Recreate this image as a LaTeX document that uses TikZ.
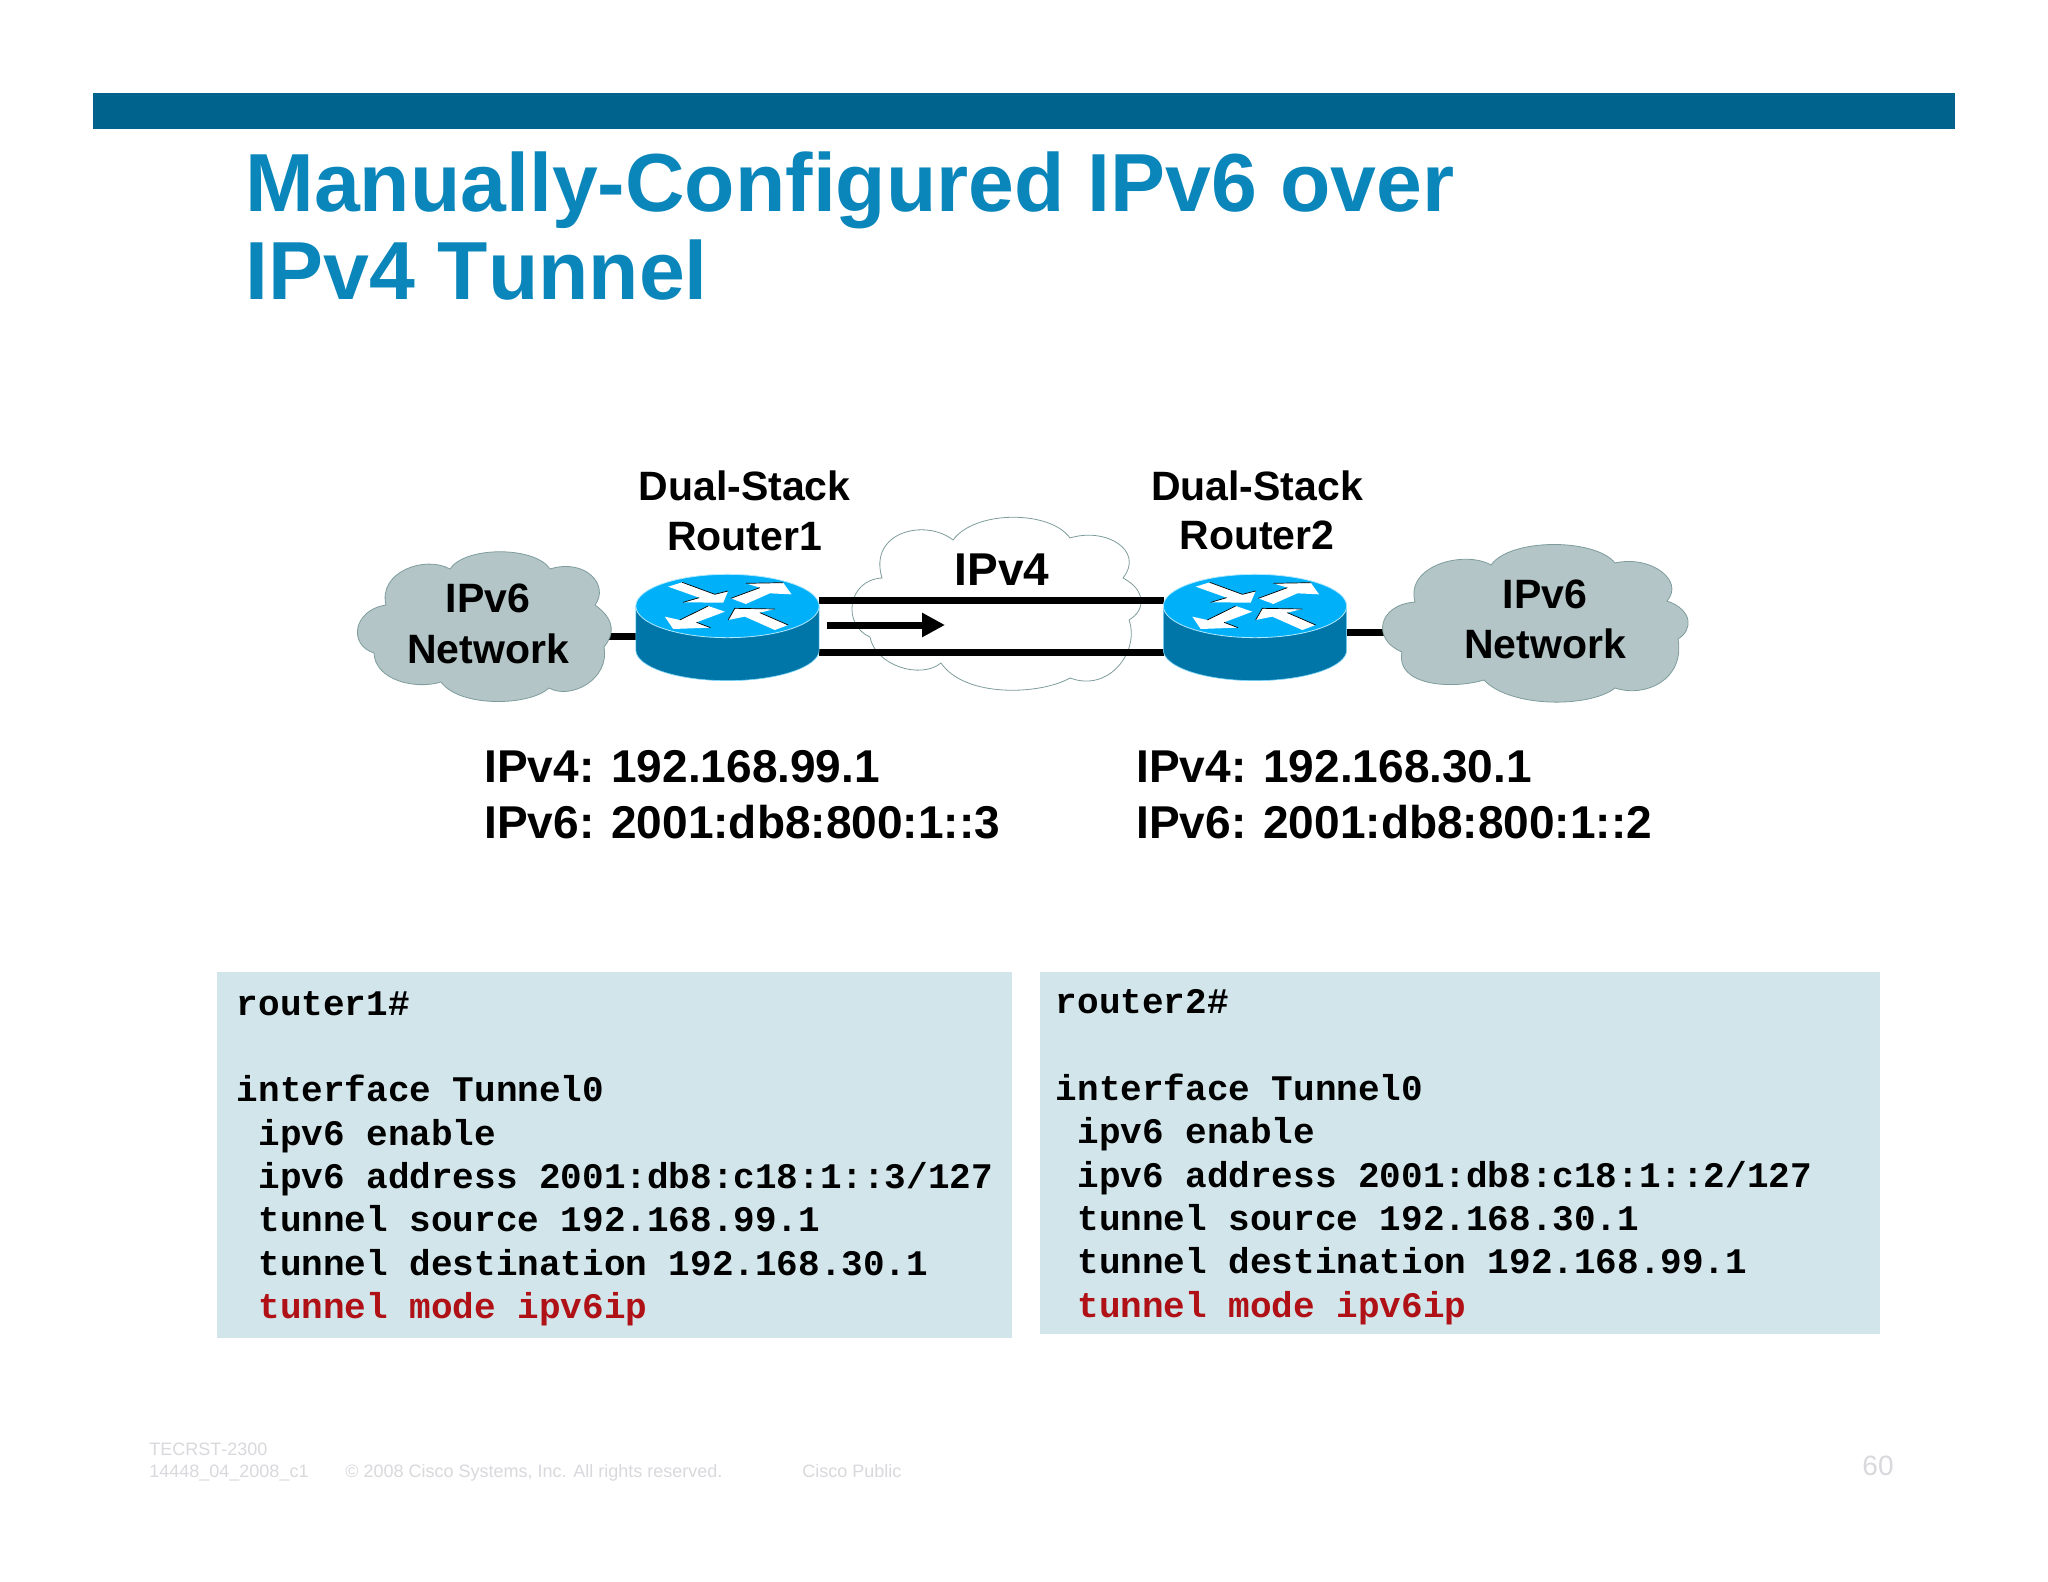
\documentclass[tikz,border=0pt]{standalone}
\usepackage{fontspec}
\setmainfont{Liberation Sans}[Kerning=Off]
\newfontfamily\codefont{Liberation Mono}[BoldFont={Liberation Mono Bold}]
\usetikzlibrary{arrows.meta}
\definecolor{barblue}{HTML}{00638E}
\definecolor{titleblue}{HTML}{0A86BB}
\definecolor{boxfill}{HTML}{D2E5EA}
\definecolor{cloudgray}{HTML}{B3C5C7}
\definecolor{cloudedge}{HTML}{7F9C9C}
\definecolor{rtop}{HTML}{00B1FA}
\definecolor{rside}{HTML}{0076A8}
\definecolor{redtxt}{HTML}{B01116}
\definecolor{footgray}{HTML}{D9D9DD}
\tikzset{
  link/.style={line width=3.5pt,black},
  lab/.style={font=\fontsize{20.5}{24}\bfseries\selectfont,inner sep=0pt,align=center},
  addr/.style={font=\fontsize{23}{28}\bfseries\selectfont,inner sep=0pt,anchor=base west},
  ttl/.style={font=\fontsize{41.2}{44}\bfseries\selectfont,text=titleblue,inner sep=0pt,anchor=base west},
  code/.style={font=\codefont\bfseries\fontsize{18}{21.65}\selectfont,inner sep=0pt,anchor=north west,align=left},
  foot/.style={font=\fontsize{9}{10}\selectfont,text=footgray,inner sep=0pt,anchor=base west},
  cl6/.style={fill=cloudgray,draw=cloudedge,line width=0.4pt},
  cl4/.style={fill=white,draw=cloudedge,line width=0.4pt},
  routeranchor/.style={minimum width=91.5pt,minimum height=26pt,inner sep=0pt,outer sep=0pt},
}
\newcommand{\routerglyph}[1]{%
\begin{scope}[shift={(#1,606)},x=0.16667pt,y=-0.16667pt,shift={(-323,-138)}]
  \fill[rside,draw=rtop!50!white,line width=0.3pt] (48,138) -- (48,270) arc[start angle=180,end angle=0,x radius=275,y radius=92] -- (598,138) -- cycle;
  \fill[rtop,draw=rtop!30!white,line width=0.4pt] (323,138) ellipse[x radius=275,y radius=95];
  \fill[white] (145,80) -- (187,67) -- (285,103) -- (325,93) -- (310,128) -- (190,127) -- (238,113) -- cycle;
  \fill[white] (333,115) -- (420,83) -- (378,70) -- (490,68) -- (515,103) -- (450,100) -- (378,132) -- cycle;
  \fill[white] (135,170) -- (180,180) -- (265,138) -- (315,155) -- (230,187) -- (272,203) -- (160,207) -- cycle;
  \fill[white] (325,180) -- (345,145) -- (465,147) -- (420,158) -- (505,195) -- (465,210) -- (375,170) -- cycle;
  \draw[black,line width=0.35pt] (187,67) -- (285,103) -- (325,93);
  \draw[black,line width=0.35pt] (190,127) -- (238,113);
  \draw[black,line width=0.35pt] (333,115) -- (420,83) (378,70) -- (490,68);
  \draw[black,line width=0.35pt] (180,180) -- (265,138) (230,187) -- (272,203);
  \draw[black,line width=0.35pt] (325,180) -- (345,145) -- (465,147) (420,158) -- (505,195);
\end{scope}}
\begin{document}
\begin{tikzpicture}[x=0.5pt,y=-0.5pt]
\useasboundingbox (0,0) rectangle (2048,1582);
\fill[white] (0,0) rectangle (2048,1582);
\fill[barblue] (93,93) rectangle (1955,129);

\node[ttl] (title1) at (245,212) {Manually-Configured IPv6 over};
\node[ttl] (title2) at (245,300) {IPv4 Tunnel};

% IPv4 cloud
\draw[cl4] (882,578) .. controls (868,532) and (925,518) .. (953,540)
  .. controls (975,510) and (1050,510) .. (1070,538)
  .. controls (1105,527) and (1145,550) .. (1123,578)
  .. controls (1146,590) and (1146,610) .. (1129,620)
  .. controls (1140,650) and (1110,693) .. (1070,678)
  .. controls (1040,695) and (965,698) .. (941,663)
  .. controls (920,680) and (875,665) .. (870,637)
  .. controls (842,625) and (847,580) .. (882,578) -- cycle;

\node[routeranchor] (r1) at (727.5,626) {};
\node[routeranchor] (r2) at (1255,626) {};
\coordinate (c1e) at (600,636);
\coordinate (c2w) at (1390,632);
\coordinate (flowA) at (827,625);
\coordinate (flowB) at (945,625);

\draw[link] (r1.north east) -- (r2.north west);
\draw[link] (r1.south east) -- (r2.south west);
\draw[link,-{Triangle[length=11.5pt,width=11.5pt]}] (flowA) -- (flowB);
\draw[link] (c1e) -- (r1.west |- c1e);
\draw[link] (r2.east |- c2w) -- (c2w);

\routerglyph{727.5}
\routerglyph{1255}

% IPv6 clouds
\draw[cl6] (386,605) .. controls (378,572) and (425,555) .. (450,569)
  .. controls (465,546) and (535,546) .. (550,569)
  .. controls (585,558) and (610,585) .. (595,605)
  .. controls (616,620) and (614,635) .. (604,647)
  .. controls (610,680) and (570,700) .. (549,688)
  .. controls (530,706) and (460,708) .. (441,682)
  .. controls (415,690) and (375,680) .. (374,653)
  .. controls (348,645) and (353,610) .. (386,605) -- cycle;
\draw[cl6] (1415,602) .. controls (1405,565) and (1465,550) .. (1491,565)
  .. controls (1510,538) and (1595,538) .. (1615,563)
  .. controls (1650,555) and (1685,580) .. (1667,601)
  .. controls (1693,610) and (1693,630) .. (1678,639)
  .. controls (1685,680) and (1645,698) .. (1615,688)
  .. controls (1590,708) and (1510,708) .. (1484,680)
  .. controls (1450,690) and (1395,685) .. (1402,652)
  .. controls (1372,640) and (1377,605) .. (1415,602) -- cycle;

\node[lab] (l1) at (744.5,485.5) {Dual-Stack};
\node[lab] (l2) at (744.5,537) {Router1};
\node[lab] (l3) at (1257,485.5) {Dual-Stack};
\node[lab] (l4) at (1257,535.5) {Router2};
\node[lab] (n1) at (488,598) {IPv6};
\node[lab] (n2) at (488,649) {Network};
\node[lab] (n3) at (1545,594) {IPv6};
\node[lab] (n4) at (1545,644) {Network};
\node[lab,font=\fontsize{23}{28}\bfseries\selectfont] (n5) at (1002,570) {IPv4};

\node[addr] (a1) at (484,782.5) {IPv4: 192.168.99.1};
\node[addr] (a2) at (484,838.5) {IPv6: 2001:db8:800:1::3};
\node[addr] (a3) at (1136,782.5) {IPv4: 192.168.30.1};
\node[addr] (a4) at (1136,838.5) {IPv6: 2001:db8:800:1::2};

\fill[boxfill] (217,972) rectangle (1012,1338);
\fill[boxfill] (1040,972) rectangle (1880,1334);

\node[code] (code1) at (236.5,991) {router1\#\\
\ \\
interface Tunnel0\\
\ ipv6 enable\\
\ ipv6 address 2001:db8:c18:1::3/127\\
\ tunnel source 192.168.99.1\\
\ tunnel destination 192.168.30.1\\
\textcolor{redtxt}{\ tunnel mode ipv6ip}};
\node[code] (code2) at (1055.5,989.5) {router2\#\\
\ \\
interface Tunnel0\\
\ ipv6 enable\\
\ ipv6 address 2001:db8:c18:1::2/127\\
\ tunnel source 192.168.30.1\\
\ tunnel destination 192.168.99.1\\
\textcolor{redtxt}{\ tunnel mode ipv6ip}};

\node[foot] (f1) at (149,1455) {TECRST-2300};
\node[foot] (f2) at (149,1477) {14448\_04\_2008\_c1};
\node[foot] (f3) at (345,1477) {© 2008 Cisco Systems, Inc. All rights reserved.};
\node[foot] (f4) at (802,1477) {Cisco Public};
\node[foot,font=\fontsize{14}{16}\selectfont] (f5) at (1862,1475.5) {60};
\end{tikzpicture}
\end{document}
